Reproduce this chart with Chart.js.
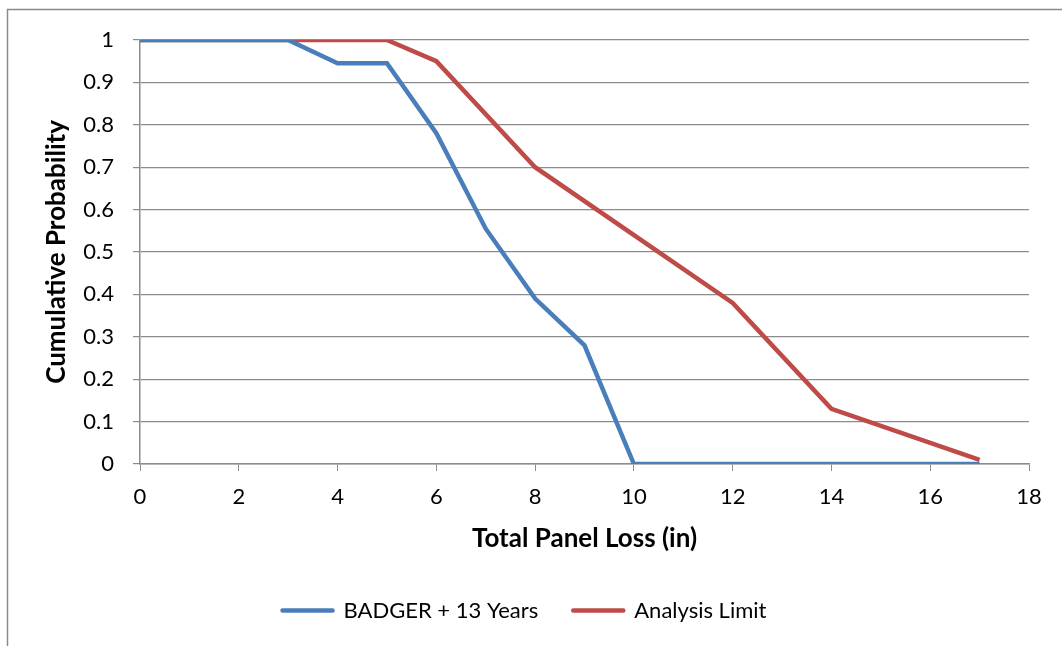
<!DOCTYPE html>
<html>
<head>
<meta charset="utf-8">
<script src="https://cdn.jsdelivr.net/npm/chart.js@4"></script>
<style>
  html, body { margin: 0; padding: 0; background: #fff; }
  #wrap { width: 1062px; height: 646px; }
</style>
</head>
<body>
<div id="wrap"><canvas id="Panel_Loss_Canvas" width="1062" height="646"></canvas></div>
<script>
// Data (kink points of each line)
const badgerX = [0, 3, 4, 5, 6, 7, 8, 9, 10, 17];
const badgerY = [1, 1, 0.945, 0.945, 0.78, 0.555, 0.39, 0.28, 0, 0];
const limitX = [0, 5, 6, 8, 12, 14, 17];
const limitY = [1, 1, 0.95, 0.70, 0.38, 0.13, 0.01];
const seriesNames = ['BADGER + 13 Years', 'Analysis Limit'];
const xTitle = 'Total Panel Loss (in)';
const yTitle = 'Cumulative Probability';

const FONT = 'Lato, "Open Sans", sans-serif';
const GRID = '#8c8c8c';
const TICK_SIZE = 22;
const TITLE_SIZE = 26;

function toPoints(xs, ys) {
    return xs.map((x, i) => ({ x: x, y: ys[i] }));
}

// Outer frame of the chart (only top and left edges show)
const framePlugin = {
    id: 'frame',
    beforeLayout(chart) {
        // keep the legend box short so it sits low like the original
        const lg = chart.legend;
        if (lg && !lg._shortFit) {
            const origFit = lg.fit.bind(lg);
            lg.fit = function() {
                origFit();
                this.height = 60;
            };
            lg._shortFit = true;
        }
    },
    afterLayout(chart) {
        // legend sits a little right of the plot centre in the original
        const lg = chart.legend;
        if (lg) {
            lg.left += 10;
            lg.right += 10;
        }
    },
    beforeDraw(chart) {
        const ctx = chart.ctx;
        ctx.save();
        ctx.fillStyle = '#fff';
        ctx.fillRect(0, 0, chart.width, chart.height);
        ctx.strokeStyle = '#8a8a8a';
        ctx.lineWidth = 1.5;
        ctx.beginPath();
        ctx.moveTo(7.5, chart.height);
        ctx.lineTo(7.5, 9.5);
        ctx.lineTo(chart.width, 9.5);
        ctx.stroke();
        ctx.restore();
    }
};

const canvas = document.getElementById('Panel_Loss_Canvas');
const chart = new Chart(canvas, {
    type: 'line',
    data: {
        datasets: [{
            label: seriesNames[0],
            data: toPoints(badgerX, badgerY),
            borderColor: '#4a7ebb',
            backgroundColor: '#4a7ebb',
            borderWidth: 4.5,
            pointRadius: 0,
            fill: false,
        }, {
            label: seriesNames[1],
            data: toPoints(limitX, limitY),
            borderColor: '#be4b48',
            backgroundColor: '#be4b48',
            borderWidth: 4.5,
            pointRadius: 0,
            fill: false,
        }]
    },
    options: {
        responsive: false,
        animation: false,
        layout: {
            padding: { top: 40, right: 33, left: 0, bottom: 21.5 }
        },
        scales: {
            x: {
                type: 'linear',
                min: 0,
                max: 18,
                afterFit: s => { s.height = 100.5; },
                ticks: {
                    stepSize: 2,
                    color: '#000',
                    padding: 13,
                    maxRotation: 0,
                    font: { family: FONT, size: TICK_SIZE }
                },
                grid: {
                    drawOnChartArea: false,
                    color: GRID,
                    tickLength: 7,
                },
                border: { color: GRID, width: 1.5 },
                title: {
                    display: true,
                    text: xTitle,
                    color: '#000',
                    font: { family: FONT, size: TITLE_SIZE, weight: 'bold' },
                    padding: { top: 0, bottom: 10 }
                }
            },
            y: {
                min: 0,
                max: 1,
                afterFit: s => { s.width = 140; },
                ticks: {
                    stepSize: 0.1,
                    color: '#000',
                    padding: 19,
                    font: { family: FONT, size: TICK_SIZE },
                    callback: v => Math.round(v * 10) / 10
                },
                grid: {
                    color: GRID,
                    lineWidth: 1.2,
                    tickLength: 7,
                },
                border: { color: GRID, width: 1.5 },
                title: {
                    display: true,
                    text: yTitle,
                    color: '#000',
                    font: { family: FONT, size: TITLE_SIZE, weight: 'bold' },
                    padding: { top: 41, bottom: 0 }
                }
            }
        },
        plugins: {
            legend: {
                position: 'bottom',
                labels: {
                    usePointStyle: true,
                    pointStyle: 'line',
                    pointStyleWidth: 50,
                    boxHeight: 4,
                    padding: 35,
                    color: '#000',
                    font: { family: FONT, size: TICK_SIZE },
                    generateLabels: function(ch) {
                        const items = Chart.defaults.plugins.legend.labels.generateLabels(ch);
                        items.forEach(it => { it.lineCap = 'round'; it.lineWidth = 4.5; });
                        return items;
                    }
                }
            },
            tooltip: { enabled: false }
        }
    },
    plugins: [framePlugin]
});
</script>
</body>
</html>
